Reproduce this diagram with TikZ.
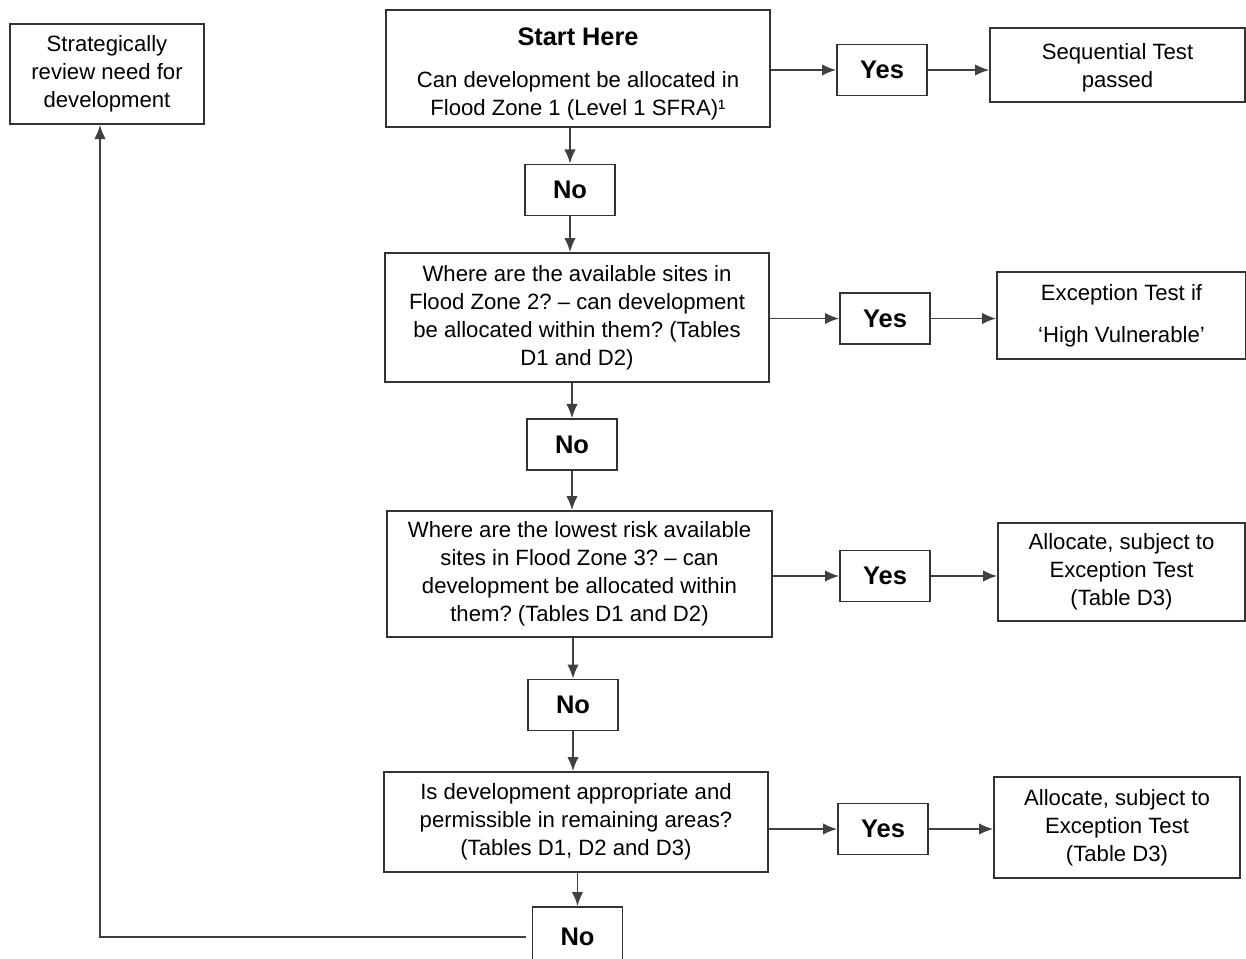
\documentclass[tikz,border=0pt]{standalone}
\usepackage{fontspec}
\setmainfont{Liberation Sans}
\usetikzlibrary{arrows.meta,positioning,calc}
\frenchspacing

\tikzset{
  box/.style={draw=black!80, line width=1.1pt, align=center, inner sep=0pt,
    font=\fontsize{12.6}{15.9}\selectfont},
  answer/.style={draw=black!80, line width=1.1pt, inner sep=0pt,
    minimum width=1.8cm, minimum height=1.02cm,
    font=\fontsize{14.5}{17}\selectfont\bfseries},
  link/.style={->, draw=black!75, line width=0.85pt}
}

\begin{document}
\begin{tikzpicture}[x=0.02cm, y=-0.02cm, >={Latex[length=8pt,width=6.5pt]}]
  \useasboundingbox (0,0) rectangle (1246,958);

  % left hand box
  \node[box, minimum width=3.88cm, minimum height=2cm] (review) at (107,74)
    {Strategically\\review need for\\development};

  % main column
  \node[box, minimum width=7.68cm, minimum height=2.34cm] (start) at (578,68.5)
    {\rule{0pt}{16pt}{\fontsize{14.4}{17}\selectfont\bfseries Start Here}\\[8pt]
     Can development be allocated in\\Flood Zone 1 (Level 1 SFRA)¹};
  \node[answer] (noA) at (570,190) {No};
  \node[box, minimum width=7.68cm, minimum height=2.58cm] (zoneB) at (577,317.5)
    {Where are the available sites in\\Flood Zone 2? -- can development\\be allocated within them? (Tables\\D1 and D2)};
  \node[answer] (noB) at (572,444.5) {No};
  \node[box, minimum width=7.7cm, minimum height=2.52cm] (zoneC) at (579.5,574)
    {Where are the lowest risk available\\sites in Flood Zone 3? -- can\\development be allocated within\\them? (Tables D1 and D2)};
  \node[answer] (noC) at (573,705) {No};
  \node[box, minimum width=7.68cm, minimum height=2cm] (remain) at (576,822)
    {Is development appropriate and\\permissible in remaining areas?\\(Tables D1, D2 and D3)};
  \node[answer, minimum height=1.2cm] (noD) at (577.5,937) {No};

  % yes column
  \node[answer] (yesA) at (882,70) {Yes};
  \node[answer] (yesB) at (885,318.5) {Yes};
  \node[answer] (yesC) at (885,576) {Yes};
  \node[answer] (yesD) at (883,829) {Yes};

  % outcome column
  \node[box, minimum width=5.1cm, minimum height=1.48cm] (seqtest) at (1117.5,65)
    {\rule{0pt}{12pt}Sequential Test\\passed};
  \node[box, minimum width=4.98cm, minimum height=1.74cm] (exceptB) at (1121.5,315.5)
    {Exception Test if\\[8pt]‘High Vulnerable’};
  \node[box, minimum width=4.94cm, minimum height=1.96cm] (allocC) at (1121.5,572)
    {Allocate, subject to\\Exception Test\\(Table D3)};
  \node[box, minimum width=4.92cm, minimum height=2.02cm] (allocD) at (1117,827.5)
    {Allocate, subject to\\Exception Test\\(Table D3)};

  % downward links
  \draw[link] (noA.north |- start.south) -- (noA.north);
  \draw[link] (noA.south) -- (noA.south |- zoneB.north);
  \draw[link] (noB.north |- zoneB.south) -- (noB.north);
  \draw[link] (noB.south) -- (noB.south |- zoneC.north);
  \draw[link] (noC.north |- zoneC.south) -- (noC.north);
  \draw[link] (noC.south) -- (noC.south |- remain.north);
  \draw[link] (noD.north |- remain.south) -- (noD.north);

  % yes links
  \draw[link] (start.east |- yesA.west) -- (yesA.west);
  \draw[link] (yesA.east) -- (yesA.east -| seqtest.west);
  \draw[link] (zoneB.east |- yesB.west) -- (yesB.west);
  \draw[link] (yesB.east) -- (yesB.east -| exceptB.west);
  \draw[link] (zoneC.east |- yesC.west) -- (yesC.west);
  \draw[link] (yesC.east) -- (yesC.east -| allocC.west);
  \draw[link] (remain.east |- yesD.west) -- (yesD.west);
  \draw[link] (yesD.east) -- (yesD.east -| allocD.west);

  % back to the review box
  \draw[link, shorten <=1.2mm] (noD.west) -| ([xshift=-0.14cm]review.south);
\end{tikzpicture}
\end{document}
